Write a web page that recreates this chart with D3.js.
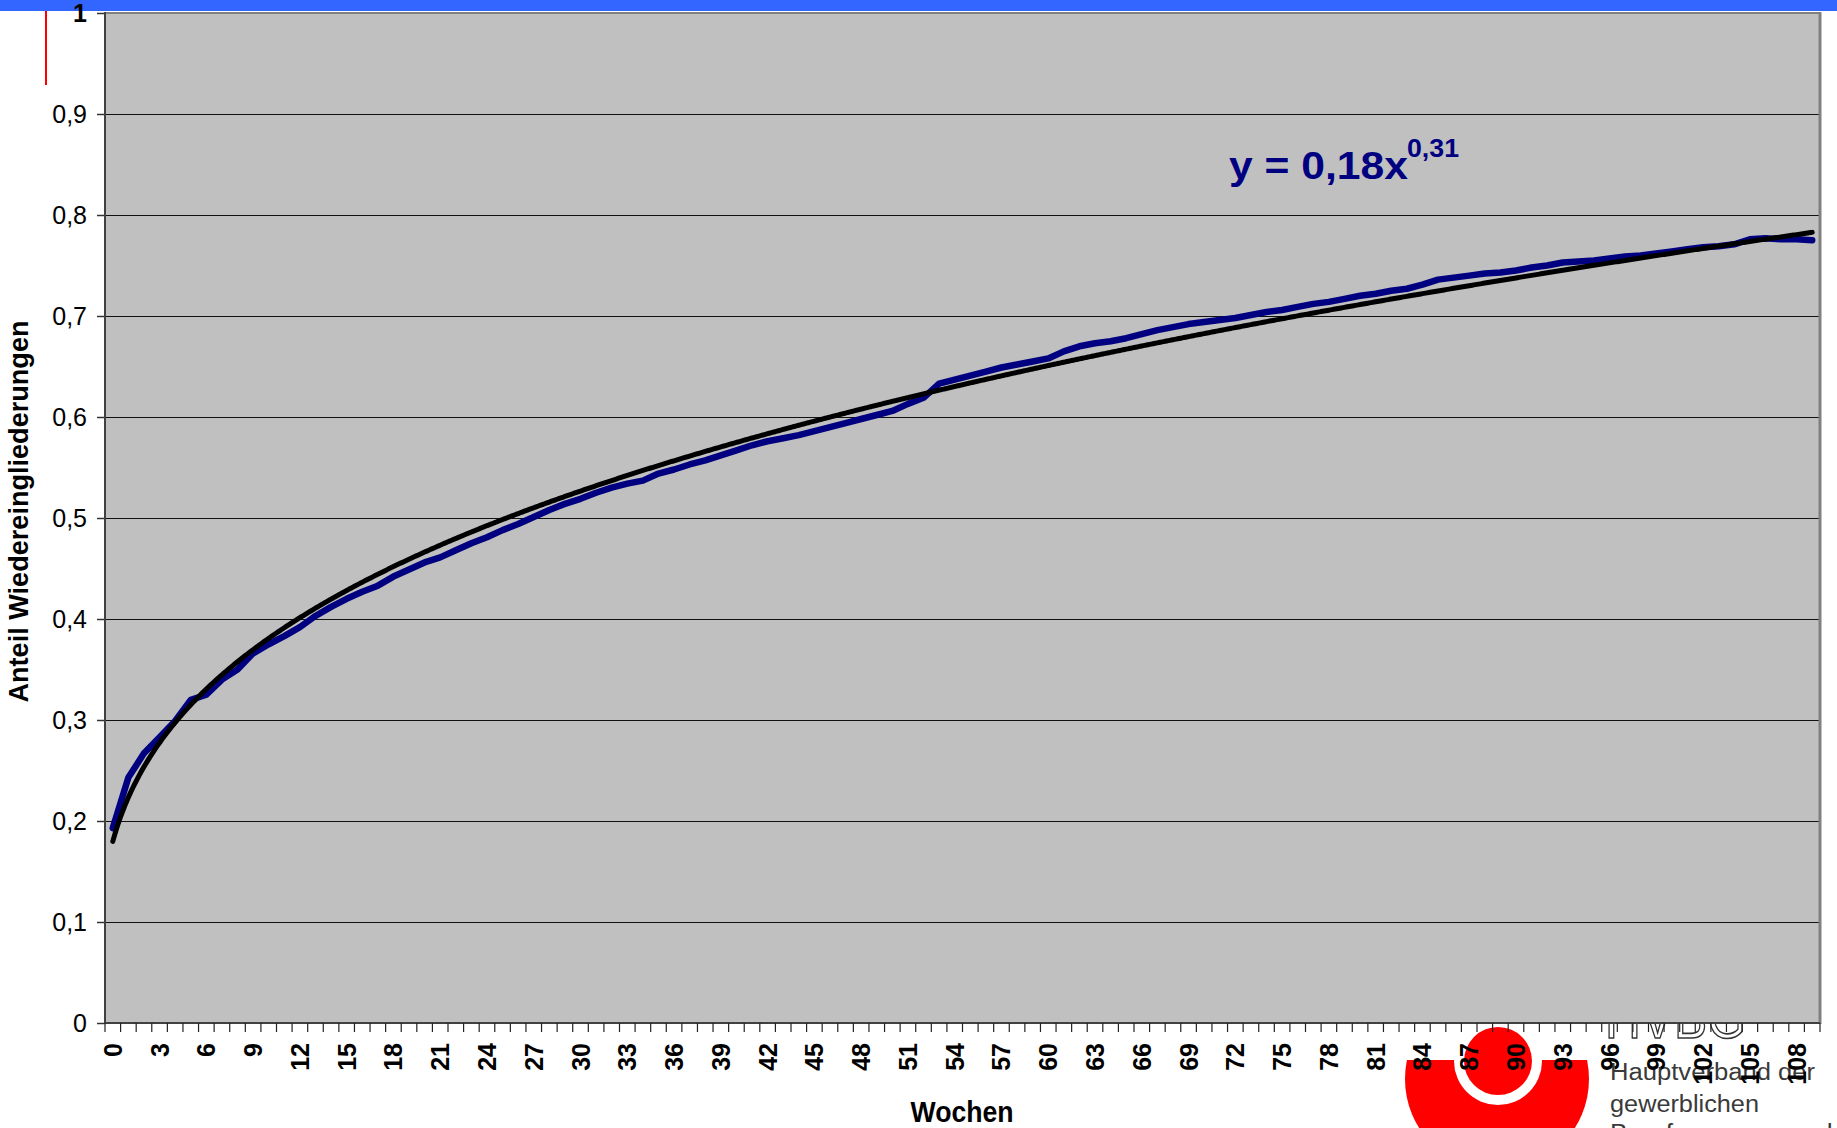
<!DOCTYPE html>
<html>
<head>
<meta charset="utf-8">
<script src="https://cdn.jsdelivr.net/npm/d3@7"></script>
<style>
  html, body { margin: 0; padding: 0; background: #fff; }
  svg { display: block; }
  text { font-family: Arial, "Liberation Sans", sans-serif; }
</style>
</head>
<body>
<svg id="chart" width="1837" height="1128"></svg>
<script>
// Weeks after the start of measures (categories of the x axis)
const weeks = d3.range(0, 110);

// Cumulative share of successful reintegrations per week
const shareReintegrated = [
  0.193, 0.243, 0.267, 0.283, 0.299, 0.320, 0.325, 0.340, 0.350, 0.366,
  0.375, 0.383, 0.392, 0.403, 0.412, 0.420, 0.427, 0.433, 0.442, 0.449,
  0.456, 0.461, 0.468, 0.475, 0.481, 0.488, 0.494, 0.501, 0.508, 0.514,
  0.519, 0.525, 0.530, 0.534, 0.537, 0.544, 0.548, 0.553, 0.557, 0.562,
  0.567, 0.572, 0.576, 0.579, 0.582, 0.586, 0.590, 0.594, 0.598, 0.602,
  0.606, 0.613, 0.619, 0.633, 0.637, 0.641, 0.645, 0.649, 0.652, 0.655,
  0.658, 0.665, 0.670, 0.673, 0.675, 0.678, 0.682, 0.686, 0.689, 0.692,
  0.694, 0.696, 0.698, 0.701, 0.704, 0.706, 0.709, 0.712, 0.714, 0.717,
  0.720, 0.722, 0.725, 0.727, 0.731, 0.736, 0.738, 0.740, 0.742, 0.743,
  0.745, 0.748, 0.750, 0.753, 0.754, 0.755, 0.757, 0.759, 0.760, 0.762,
  0.764, 0.766, 0.768, 0.769, 0.771, 0.776, 0.777, 0.776, 0.776, 0.775
];

// Value axis ticks
const yTicks = [0, 0.1, 0.2, 0.3, 0.4, 0.5, 0.6, 0.7, 0.8, 0.9, 1];
// Every third week gets a label
const xLabelStep = 3;

// Texts
const yTitle = "Anteil Wiedereingliederungen";
const xTitle = "Wochen";
const logoLines = ["Hauptverband der", "gewerblichen", "Berufsgenossenschaften"];

const W = 1837, H = 1128;
const plot = { left: 105, top: 13, right: 1820, bottom: 1023 };
const svg = d3.select("#chart");
const comma = s => s.replace(".", ",");

// ---- slide decoration -------------------------------------------------
svg.append("rect").attr("x", 0).attr("y", 0).attr("width", W).attr("height", 11)
  .attr("fill", "#3366ff");
svg.append("line").attr("x1", 46).attr("x2", 46).attr("y1", 11).attr("y2", 85)
  .attr("stroke", "#ff0000").attr("stroke-width", 2);

// ---- logo (sits behind the chart) -------------------------------------
const defs = svg.append("defs");
defs.append("clipPath").attr("id", "cupClip")
  .append("rect").attr("x", 1380).attr("y", 1060).attr("width", 240).attr("height", 120);
const logo = svg.append("g");
logo.append("circle").attr("cx", 1497).attr("cy", 1079).attr("r", 92)
  .attr("fill", "#ff0000").attr("clip-path", "url(#cupClip)");
logo.append("circle").attr("cx", 1498).attr("cy", 1061).attr("r", 44).attr("fill", "#fff");
logo.append("circle").attr("cx", 1498).attr("cy", 1061).attr("r", 34).attr("fill", "#ff0000");
logo.append("text").attr("x", 1605).attr("y", 1038)
  .attr("font-size", 62).attr("textLength", 141).attr("lengthAdjust", "spacingAndGlyphs")
  .attr("fill", "none").attr("stroke", "#333").attr("stroke-width", 1.6)
  .text("HVBG");
const logoY = [1080, 1112, 1141];
const logoLen = [205, 149, 290];
logoLines.forEach((t, i) => {
  logo.append("text").attr("x", 1610).attr("y", logoY[i])
    .attr("font-family", "'Open Sans', sans-serif")
    .attr("font-size", 23).attr("fill", "#3a3a3a")
    .attr("textLength", logoLen[i]).attr("lengthAdjust", "spacingAndGlyphs")
    .text(t);
});

// ---- scales -----------------------------------------------------------
const x = d3.scaleBand().domain(weeks).range([plot.left, plot.right]).padding(0);
const xc = w => x(w) + x.bandwidth() / 2;
const xPos = d3.scaleLinear().domain([-0.5, weeks.length - 0.5]).range([plot.left, plot.right]);
const y = d3.scaleLinear().domain([0, 1]).range([plot.bottom, plot.top]);

// ---- plot area --------------------------------------------------------
svg.append("rect")
  .attr("x", plot.left).attr("y", plot.top)
  .attr("width", plot.right - plot.left).attr("height", plot.bottom - plot.top)
  .attr("fill", "#c0c0c0");

// horizontal gridlines
svg.append("g").selectAll("line")
  .data(yTicks.filter(v => v > 0 && v < 1))
  .join("line")
  .attr("x1", plot.left).attr("x2", plot.right)
  .attr("y1", d => Math.round(y(d)) + 0.5).attr("y2", d => Math.round(y(d)) + 0.5)
  .attr("stroke", "#111").attr("stroke-width", 1.2);

// frame
svg.append("line").attr("x1", plot.left).attr("x2", plot.right)
  .attr("y1", plot.top).attr("y2", plot.top)
  .attr("stroke", "#808080").attr("stroke-width", 2);
svg.append("line").attr("x1", plot.right).attr("x2", plot.right)
  .attr("y1", plot.top - 1).attr("y2", plot.bottom + 1)
  .attr("stroke", "#808080").attr("stroke-width", 3);

// ---- data series ------------------------------------------------------
const series = weeks.map((w, i) => ({ w, v: shareReintegrated[i] }));
svg.append("path")
  .datum(series)
  .attr("fill", "none")
  .attr("stroke", "#000080").attr("stroke-width", 6.5)
  .attr("stroke-linejoin", "round").attr("stroke-linecap", "round")
  .attr("d", d3.line().x(d => xc(d.w)).y(d => y(d.v)));

// ---- power trendline fitted on log-log (x = 1, 2, 3, ...) -------------
const lx = weeks.map(w => Math.log(w + 1));
const ly = shareReintegrated.map(v => Math.log(v));
const mx = d3.mean(lx), my = d3.mean(ly);
const b = d3.sum(lx, (v, i) => (v - mx) * (ly[i] - my)) / d3.sum(lx, v => (v - mx) ** 2);
const a = Math.exp(my - b * mx);
const trend = d3.range(1, weeks.length + 0.0001, 0.1).map(t => [xPos(t - 1), y(a * Math.pow(t, b))]);
svg.append("path")
  .datum(trend)
  .attr("fill", "none")
  .attr("stroke", "#000").attr("stroke-width", 5)
  .attr("stroke-linecap", "round")
  .attr("d", d3.line());

// equation label
const eq = svg.append("g").attr("fill", "#000080").attr("font-weight", "bold");
eq.append("text").attr("x", 1229).attr("y", 179).attr("font-size", 38)
  .attr("textLength", 179).attr("lengthAdjust", "spacingAndGlyphs")
  .text(`y = ${comma(d3.format(".2f")(a))}x`);
eq.append("text").attr("x", 1407).attr("y", 157).attr("font-size", 25)
  .attr("textLength", 52).attr("lengthAdjust", "spacingAndGlyphs")
  .text(comma(d3.format(".2f")(b)));

// ---- axes -------------------------------------------------------------
const yAxis = d3.axisLeft(y)
  .tickValues(yTicks)
  .tickSize(8).tickPadding(10)
  .tickFormat(d => (d === 0 || d === 1) ? String(d) : comma(d3.format(".1f")(d)));
const gy = svg.append("g").attr("transform", `translate(${plot.left},0)`).call(yAxis);
gy.select(".domain").remove();
gy.selectAll(".tick line").attr("stroke", "#333").attr("stroke-width", 1.5);
gy.selectAll(".tick text")
  .attr("font-size", 25).attr("fill", "#000")
  .attr("font-family", "Arial, 'Liberation Sans', sans-serif")
  .attr("font-weight", d => d === 1 ? "bold" : "normal");

// axis lines
svg.append("line").attr("x1", plot.left).attr("x2", plot.left)
  .attr("y1", plot.top - 1).attr("y2", plot.bottom + 1)
  .attr("stroke", "#404040").attr("stroke-width", 2);
svg.append("line").attr("x1", plot.left).attr("x2", plot.right)
  .attr("y1", plot.bottom).attr("y2", plot.bottom)
  .attr("stroke", "#404040").attr("stroke-width", 2);

// category ticks between weeks
svg.append("g").selectAll("line")
  .data(d3.range(0, weeks.length + 1))
  .join("line")
  .attr("x1", k => xPos(k - 0.5)).attr("x2", k => xPos(k - 0.5))
  .attr("y1", plot.bottom).attr("y2", plot.bottom + 9)
  .attr("stroke", "#222").attr("stroke-width", 1.2);

// rotated week labels
svg.append("g").selectAll("text")
  .data(weeks.filter(w => w % xLabelStep === 0))
  .join("text")
  .attr("transform", w => `translate(${xc(w)},${plot.bottom + 20}) rotate(-90)`)
  .attr("text-anchor", "end").attr("dy", "0.36em")
  .attr("font-size", 25).attr("font-weight", "bold").attr("fill", "#000")
  .text(w => w);

// axis titles
svg.append("text")
  .attr("transform", `translate(28,${(320 + 703) / 2}) rotate(-90)`)
  .attr("text-anchor", "middle").attr("font-weight", "bold").attr("font-size", 28)
  .attr("textLength", 382).attr("lengthAdjust", "spacingAndGlyphs")
  .text(yTitle);
svg.append("text")
  .attr("x", 962).attr("y", 1122)
  .attr("text-anchor", "middle").attr("font-weight", "bold").attr("font-size", 29)
  .attr("textLength", 103).attr("lengthAdjust", "spacingAndGlyphs")
  .text(xTitle);
</script>
</body>
</html>
